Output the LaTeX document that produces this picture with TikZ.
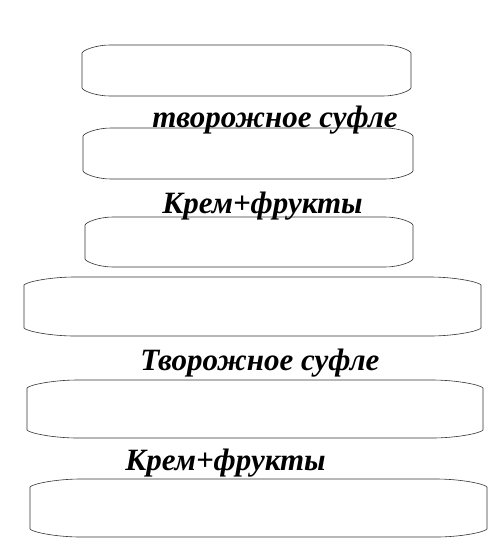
\documentclass[tikz,border=0pt]{standalone}
\usepackage{fontspec}
\setmainfont{Liberation Serif}
\usepackage{tikz}
\def\depth{8}

\begin{document}
\begin{tikzpicture}[x=1pt,y=-1pt,line width=0.6pt,draw=black!80]
    \tikzstyle{tier}=[draw=black!80]
    \tikzstyle{layer label}=[font=\fontsize{31}{34}\selectfont\bfseries\itshape, anchor=base west, inner sep=0pt]

    \useasboundingbox (0,0) rectangle (501,560);

    % the tiers, top to bottom
    \foreach \name / \l / \r / \t / \b / \c in {1/82/411/45/96/28, 2/83/413/128/179/28, 3/85/413/217/267/28,
                                                4/24/481/277/336/51, 5/27/483/380/438/51, 6/30/487/479/537/51}
        \draw[tier] (\l,\t+\depth) .. controls (\l+0.04*\c,\t+\depth-3) and (\l+0.5*\c,\t) .. (\l+\c,\t) -- (\r-\c,\t)
            .. controls (\r-0.5*\c,\t) and (\r-0.04*\c,\t+\depth-3) .. (\r,\t+\depth) -- (\r,\b-\depth)
            .. controls (\r-0.04*\c,\b-\depth+3) and (\r-0.5*\c,\b) .. (\r-\c,\b) -- (\l+\c,\b)
            .. controls (\l+0.5*\c,\b) and (\l+0.04*\c,\b-\depth+3) .. (\l,\b-\depth) -- cycle;

    % labels between the tiers
    \node[layer label] (L-1) at (152,127) {творожное суфле};
    \node[layer label] (L-2) at (162,213) {Крем+фрукты};
    \node[layer label] (L-3) at (140,370) {Творожное суфле};
    \node[layer label] (L-4) at (125,470) {Крем+фрукты};
\end{tikzpicture}
\end{document}
